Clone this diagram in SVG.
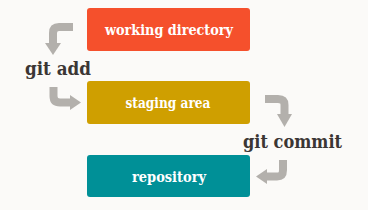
<svg xmlns="http://www.w3.org/2000/svg" width="368" height="210" viewBox="0 0 368 210">
<style>
.box-label{font-family:"DejaVu Serif","Liberation Serif",serif;font-weight:bold;font-size:15px;fill:#ffffff;text-anchor:middle}
.cmd{font-family:"DejaVu Serif","Liberation Serif",serif;font-weight:bold;font-size:18.5px;fill:#3b3634}
.conn{fill:none;stroke:#b3b0ac;stroke-width:8}
.head{fill:#b3b0ac}
</style>
<rect width="368" height="210" fill="#fbfaf8"/>
<g id="working-directory">
<rect x="87" y="8" width="163" height="43" rx="3" fill="#f5502c"/>
<text class="box-label" x="169" y="35" textLength="128" lengthAdjust="spacingAndGlyphs">working directory</text>
</g>
<g id="staging-area">
<rect x="87" y="81" width="163" height="43" rx="3" fill="#cf9f00"/>
<text class="box-label" x="168" y="108" textLength="85" lengthAdjust="spacingAndGlyphs">staging area</text>
</g>
<g id="repository">
<rect x="87" y="155" width="163" height="42" rx="3" fill="#009097"/>
<text class="box-label" x="169" y="181.5" textLength="74" lengthAdjust="spacingAndGlyphs">repository</text>
</g>
<g id="connectors">
<path class="conn" d="M73,27 H59 Q53,27 53,33 V44"/>
<polygon class="head" points="45,43 61,43 53,55"/>
<path class="conn" d="M53.5,87 V96 Q53.5,102.5 60,102.5 H71"/>
<polygon class="head" points="70,95 70,110 81,102.5"/>
<path class="conn" d="M265,99 H278 Q284.5,99 284.5,105 V115"/>
<polygon class="head" points="277,114 292,114 284.5,127"/>
<path class="conn" d="M283,160 V170 Q283,176.5 277,176.5 H266"/>
<polygon class="head" points="267,169 267,184 256,176.5"/>
</g>
<g id="labels">
<text class="cmd" x="25" y="75" textLength="66" lengthAdjust="spacingAndGlyphs">git add</text>
<text class="cmd" x="243" y="147.5" textLength="99" lengthAdjust="spacingAndGlyphs">git commit</text>
</g>
</svg>
